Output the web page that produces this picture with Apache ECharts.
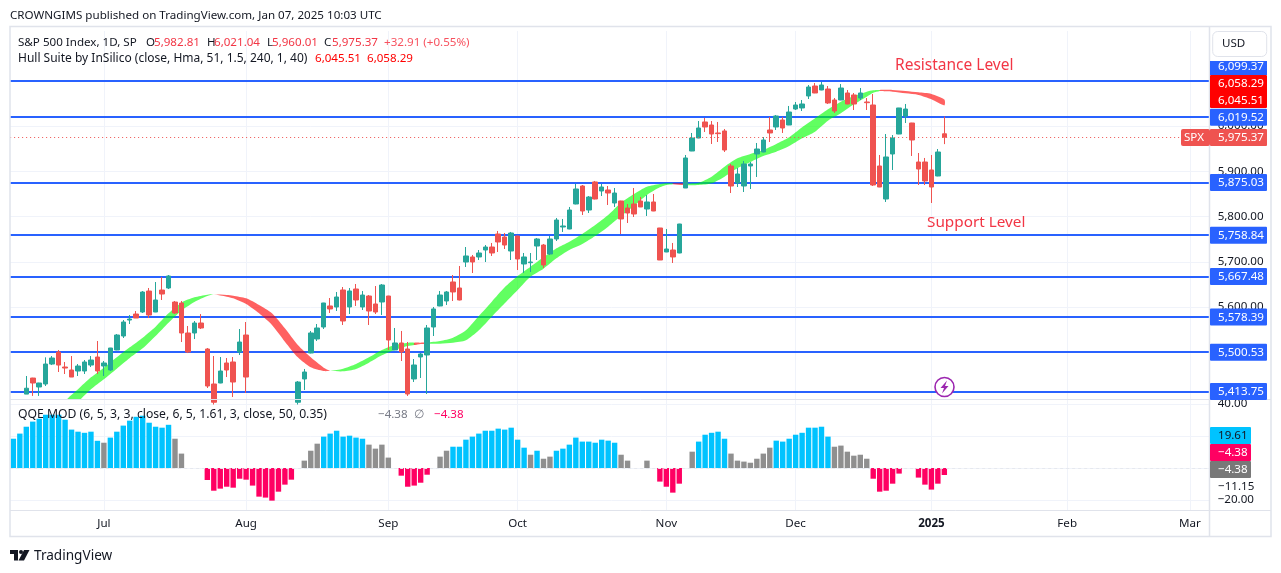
<!DOCTYPE html>
<html><head><meta charset="utf-8">
<style>html,body{margin:0;padding:0;background:#fff}#c{width:1281px;height:573px}</style>
<script src="https://cdn.jsdelivr.net/npm/echarts@6/dist/echarts.min.js"></script>
</head><body><div id="c"></div>
<script>
const monthIdx=[14,36,58,78,101,121,142,163,182];
const monthNames=['Jul','Aug','Sep','Oct','Nov','Dec','2025','Feb','Mar'];
const opens=[5385,5380,5408,5443.5,5423.7,5430.3,5474.4,5500.9,5467.8,5461.2,5459,5459,
5472.2,5489.9,5470,5461.2,5505.4,5536.3,5571.6,5584.8,5589.3,5635.6,
5589.3,5637.8,5642.3,5611.3,5609.1,5542.9,5542.9,5565,5507.6,5430.3,
5432.5,5476.7,5478.9,5500.9,5538.5,
5385,5290,5240,5270,5310,5330,5345,
5390,
5441.4,5498.8,5529.7,5556.2,5602.6,5600.4,5637.9,5600.4,5640.1,5600.4,5624.6,5607,5611.4,5624.6,
5505.4,5520.9,5507.6,5441.4,5490,5494.4,5556.2,5602.6,5613.6,5655.6,
5642.3,5699.7,5710.8,5710.8,5726.2,5732.8,5761.5,5754.9,5724,5757.1,
5695.3,5698.2,5735,5737.2,5717.4,5750.5,5777,5772.6,5827.8,5867.5,
5814.5,5876.4,5856.5,5858.7,5830,5834.4,5818.9,5827.8,5834.4,5816.7,
5832.2,5774.8,5721.8,5726.2,5719.6,5863.1,5944.8,5973.5,6008.9,6002.2,
5984.6,5989,5911.7,5874.2,5867.5,5911.7,5938.2,5942.6,5991.2,5997.8,
6013.3,6002.2,6037.5,6039.8,6066.3,6088.3,6079.5,6081.7,6057.4,6057.4,
6072.9,6068.5,6061.8,6053,6046.4,5911.7,5838.8,5938.2,5982.3,6022.1,
6006.6,5920.5,5920.5,5902.9,5889.6,5982.81];
const closes=[5382,5390,5421,5432.5,5432.5,5474.4,5487.7,5472.2,5465.6,5445.7,5470,5478.9,
5483.3,5459,5476.7,5509.8,5538.5,5567.2,5573.8,5576,5633.4,5582.6,
5615.8,5629,5668.8,5587.1,5542.9,5500.9,5565,5554,5425.9,5390,
5459,5461.2,5434.7,5523,5445.7,
5345,5220,5250,5210,5325,5345,5343,
5434.7,
5456.8,5543,5554,5609.2,5596,5622.4,5569.4,5635.7,5615.8,5626.8,5591.5,5589.3,5648.9,5527.5,
5520.9,5501,5408.3,5472.3,5496.6,5554,5596,5626.8,5633.5,5633.5,
5615.8,5713,5699.7,5719.6,5732.8,5719.6,5743.9,5737.2,5763.7,5706.3,
5710.8,5699.7,5750.5,5693.1,5750.5,5792.4,5779.2,5814.5,5860.9,5812.3,
5843.2,5838.8,5865.3,5852,5852,5794.7,5807.9,5805.7,5821.2,5832.2,
5812.3,5704.1,5728.4,5710.8,5783.6,5929.4,5973.5,5995.6,5997.8,5982.3,
5983.1,5947,5867.5,5894,5916.1,5916.1,5949.2,5969.1,5984.6,6022.1,
5995.6,6030.9,6046.4,6048.6,6086.1,6072.9,6090.5,6050.8,6033.1,6083.9,
6048.6,6048.6,6072.9,6051.5,5869.7,5865.3,5931.6,5973.5,6039.8,6037.5,
5969.1,5905,5878.6,5865.3,5942.6,5975.37];
const lows=[5370,5375,5408,5404,5404,5425.9,5472.2,5456.8,5452.4,5445.7,5448,5452.4,
5467.8,5452.4,5448,5459,5505,5531.9,5562.8,5576,5587.1,5576,
5589,5615.8,5640,5584.8,5523,5498.7,5529.6,5551.7,5421.5,5385,
5432,5445.7,5401.6,5494.3,5410.4,
5330,5150,5200,5190,5290,5310,5320,
5385,
5417.1,5498,5525.3,5551.8,5587.1,5591.5,5560.6,5584.9,5602.6,5593.7,5560.6,5584.9,5582.7,5505.4,
5505,5481.1,5403.9,5434.8,5443.6,5408.3,5536.3,5602,5604.8,5613.6,
5615,5688.7,5675.4,5704.1,5699.7,5713,5721.8,5728.4,5704.1,5682,
5675.4,5677.6,5704.1,5686.5,5715.2,5746.1,5766,5772,5827,5803.5,
5807.9,5838,5845.4,5825.6,5821.2,5761.5,5785.8,5799.1,5821,5801.3,
5812,5704,5721.5,5697.5,5719,5863,5944.5,5973,5986.8,5960.3,
5964.7,5942.6,5852,5865.3,5854.3,5860.9,5887.4,5942,5964.7,5991.2,
5984.6,6002,6035.3,6033.1,6059.6,6072.5,6079,6048.6,6028.7,6057,
6048,6035.3,6057.4,6035.3,5867.5,5865,5832.2,5902.9,5982,6006.6,
5933.8,5869.7,5869.7,5830,5889,5960.01];
const highs=[5390,5392,5448,5444,5433,5489.2,5492.1,5505.4,5478.9,5492.1,5474.4,5483.3,
5492.1,5525.2,5481.1,5510,5540.7,5571.6,5582.6,5591.5,5635.6,5642.3,
5655.5,5666.5,5671,5613.6,5613.6,5558.4,5569.4,5584.8,5509.8,5492.1,
5489.9,5487.7,5489.9,5551.7,5567.2,
5392,5300,5270,5290,5330,5360,5380,
5436.9,
5463.5,5547.4,5562.8,5609.5,5620.2,5633.5,5644.5,5642.3,5651.1,5635.7,5626.8,5646.7,5651.1,5625,
5554,5547.4,5523.1,5485.5,5498.8,5560.6,5600.4,5635.7,5635.7,5671,
5690.9,5732.8,5715.2,5726.2,5737.2,5741.7,5768.2,5763.7,5766,5757.5,
5719.6,5719.6,5752.7,5739.5,5757.1,5796.9,5794.7,5821.2,5872,5869.7,
5845.4,5878.6,5872,5867.5,5863.1,5835,5827.8,5863.1,5843.2,5847.6,
5849.9,5775,5772.6,5741.7,5784,5936,5984.6,6011,6017.7,6011,
6008.9,5993.4,5916.1,5907.3,5922.7,5920.5,5962.5,5975.7,6019.9,6024.3,
6019.9,6044.2,6053,6057.4,6090.5,6094.9,6097.2,6088.3,6061.8,6092.7,
6079.5,6072.9,6083.9,6061.8,6070.7,5936,5982.3,5980.1,6040,6048.6,
6007,5940.4,5929.4,5936,5949.2,6021.04];

const hullIdx=[8,10,12,14,16,18,20,22,24,26,28,30,31,33,34,36,38,40,42,44,46,48,49,51,53,55,57,59,61,62,63,64,66,68,70,72,74,76,78,80,82,84,86,88,90,92,94,96,98,100,101,102,104,106,108,110,112,114,116,118,120,122,124,126,128,130,132,133,134,136,138,140,142,144];
const hullUp=[5391.3,5418.5,5445,5466.4,5489.2,5511.2,5532.6,5556.9,5586.3,5609.9,5621.6,5627.5,5628.3,5626.8,5625.3,5619.4,5604.7,5586.3,5553.2,5516.4,5489.2,5466.4,5459,5464.2,5474.5,5489.2,5505.4,5516.4,5521.6,5521.6,5521.6,5521.6,5525.3,5532.6,5549,5580.5,5612.1,5643.8,5668.8,5689.4,5710,5729.9,5744.6,5761.5,5781.4,5803.5,5830.7,5849.9,5866,5872,5873.4,5873.4,5872.7,5874.9,5888.2,5910.2,5928.6,5938.2,5947,5960.3,5975,5997.1,6016.9,6036.8,6053.7,6066.2,6075.8,6078.8,6079.5,6079.5,6077.3,6074.4,6070.7,6058.29];
const hullLo=[5369.2,5391.3,5418.5,5440.6,5464.1,5487.7,5509,5536.3,5565.7,5592.2,5611.3,5624.6,5628.3,5623.1,5619.4,5606.9,5586.3,5560.6,5523.8,5489.2,5467.1,5459,5459,5458.3,5463.5,5477.4,5493.6,5505.4,5514.2,5516.4,5518.7,5519.4,5519.4,5521.6,5527,5549,5579,5608.4,5637.9,5667.3,5685,5707.8,5726.2,5739.5,5757.1,5777.7,5801.3,5823.4,5847.7,5864.6,5869.7,5871.2,5869.7,5869.7,5873.4,5888.2,5906.5,5920.5,5933.8,5943.3,5955.8,5972.8,5987.5,6011.8,6028,6047.8,6064.8,6073.6,6077.3,6075.8,6072.1,6068.5,6058.9,6045.51];
const hullRedStarts=[31,62,102,134];
const hullGreenStarts=[8,49,64,104];

const qqeValues=[18.3,21.5,25.8,29,30.8,33.3,33.3,33.3,30.2,24,
22.7,22,22.7,17,15.8,19,22.7,26.5,29.6,32,
32.7,28.3,25.8,25.2,27,18.3,9,null,null,null,
-7.5,-14.2,-12.9,-11.7,-12.3,-6.7,-7.3,-11,-17.9,-18.5,
-20.4,-14.8,-10.4,-7.3,null,4.6,10.8,15.2,19.6,21.5,
23.3,19.6,20.2,19,18.3,14.6,12.1,14.6,6.5,null,
-4.8,-11.7,-11,-9.2,-4.2,null,7.1,10.8,13.3,13.3,
17.7,19.6,21.5,23.3,23.3,24.6,24,25.2,17.7,12.7,
8.3,10.8,5.8,7.1,10.8,12.1,14.6,19,16.5,16.5,
15.8,17.7,17.1,15.8,8.3,4.6,null,null,4.6,null,
-8.5,-11.7,-15.4,-9.8,null,10.2,16.5,20.8,22,22.7,
18.3,9,4.6,4,3.3,5.8,9,12.7,17.1,16.5,
18.3,20.8,22,25.2,25.2,25.8,19.6,13.3,14,10.2,
7.7,8.3,5.8,-6.7,-14.8,-14.2,-9.8,-3.5,null,null,
-6,-10.4,-13.5,-9.8,-4.38];
const qqeKinds='bbbbbbbbbb'+'bbbbgbbbbb'+'bbbbbgg___'+'rrrrrrrrrr'+'rrrr_gggbb'+'bbbbbgggg_'+'rrrrr_ggbb'+'bbbbbbbbbb'+'gbggbbbbbb'+'bbbbgg__g_'+'rrrr_gbbbb'+'bgggggggbb'+'bbbbbbbggg'+'gggrrrrr__'+'rrrrr';

const levelValues=[6099.37,6019.52,5875.03,5758.84,5667.48,5578.39,5500.53,5413.75];
const lastPrice=5975.37;
const priceTicks=[5500,5600,5700,5800,5900,6000,6100];
const qqeTicks=[-20,0,20,40];

const COLS=186;
const categories=Array.from({length:COLS},(_,i)=>{const k=monthIdx.indexOf(i);return k>=0?monthNames[k]:String(i);});
const isMonth=i=>monthIdx.indexOf(i)>=0;
const fmt=v=>v.toFixed(2).replace(/\B(?=(\d{3})(?!\d))/,',').replace('-','\u2212');
const FONT='"Noto Sans", sans-serif', FS=11.6;
const INK='#131722', GRID='#f0f3fa', FRAME='#e0e3eb';
const UP='#26a69a', DOWN='#ef5350', LEVEL='#2962ff', HOTRED='#f23645';
const QQE={b:'#00c3ff',g:'#8f8f8f',r:'#ff0062'};

function hullRun(k){
  const i=hullIdx[k];
  if(hullRedStarts.indexOf(i)>=0) return '#ff0000';
  if(hullGreenStarts.indexOf(i)>=0) return '#00ff00';
  return null;
}
function renderHull(params,api){
  const k=params.dataIndex, color=hullRun(k);
  if(!color) return null;
  let e=k+1;
  while(e<hullIdx.length-1 && !hullRun(e)) e++;
  const up=[],lo=[];
  for(let j=k;j<=e;j++){up.push(api.coord([hullIdx[j],hullUp[j]]));lo.unshift(api.coord([hullIdx[j],hullLo[j]]));}
  return {type:'polygon',shape:{points:up.concat(lo),smooth:0.25},style:{fill:color,opacity:0.62}};
}

const xBase={type:'category',data:categories,boundaryGap:true,
  axisLine:{show:false},axisTick:{show:false},
  splitLine:{show:true,alignWithLabel:true,interval:i=>isMonth(i),lineStyle:{color:GRID,width:1}}};

const gridAxis=(gridIndex,min,max,ticks)=>({type:'value',gridIndex,position:'right',min,max,z:0,
  axisLine:{show:false},axisTick:{show:false,customValues:ticks},
  axisLabel:{show:false,customValues:ticks},
  splitLine:{show:true,lineStyle:{color:GRID,width:1}}});
const labelAxis=(gridIndex,min,max,ticks)=>({type:'value',gridIndex,position:'right',min,max,z:10,
  axisLine:{show:false},axisTick:{show:false,customValues:ticks},
  axisLabel:{show:true,customValues:ticks,margin:5,color:INK,fontFamily:FONT,fontSize:FS,formatter:fmt},
  splitLine:{show:false}});

const chart=echarts.init(document.getElementById('c'),null,{renderer:'canvas'});
chart.setOption({
  animation:false,backgroundColor:'#fff',
  grid:[{left:10.14,width:1202.49,top:31,height:368},{left:10.14,width:1202.49,top:400,height:110}],
  xAxis:[
    Object.assign({},xBase,{gridIndex:0,axisLabel:{show:false,interval:i=>isMonth(i)}}),
    Object.assign({},xBase,{gridIndex:1,axisLabel:{show:true,interval:i=>isMonth(i),color:INK,fontFamily:FONT,fontSize:FS,margin:8,
      hideOverlap:false,
      formatter:v=>v==='2025'?'{b|2025}':v,rich:{b:{fontWeight:'bold',color:INK,fontFamily:FONT,fontSize:FS}}}})
  ],
  yAxis:[
    labelAxis(0,5397.2,6209.77,priceTicks),
    labelAxis(1,-26.25,42.5,qqeTicks),
    gridAxis(0,5397.2,6209.77,priceTicks),
    gridAxis(1,-26.25,42.5,qqeTicks)
  ],
  series:[
    {type:'line',xAxisIndex:0,yAxisIndex:0,data:[],z:1,silent:true,
     markLine:{z:1,silent:true,symbol:'none',animation:false,label:{show:false},
       lineStyle:{color:LEVEL,width:2,type:'solid'},
       data:levelValues.map(v=>({yAxis:v}))}},
    {type:'custom',xAxisIndex:0,yAxisIndex:0,z:3,silent:true,clip:true,coordinateSystem:'cartesian2d',
     renderItem:renderHull,encode:{x:0,y:1},
     data:hullIdx.map((x,k)=>[x,hullUp[k],hullLo[k]])},
    {type:'candlestick',xAxisIndex:0,yAxisIndex:0,z:4,silent:true,clip:true,barWidth:5,
     itemStyle:{color:UP,color0:DOWN,borderColor:UP,borderColor0:DOWN,borderWidth:1},
     data:opens.map((o,i)=>[o,closes[i],lows[i],highs[i]]),
     markLine:{z:5,silent:true,symbol:'none',animation:false,label:{show:false},
       lineStyle:{color:DOWN,width:1,type:[1,3]},data:[{yAxis:lastPrice}]}},
    {type:'bar',xAxisIndex:1,yAxisIndex:1,z:3,silent:true,barWidth:5.4,
     data:qqeValues.map((v,i)=>({value:v,itemStyle:{color:QQE[qqeKinds[i]]||'#fff'}})),
     markLine:{z:5,silent:true,symbol:'none',animation:false,label:{show:false},
       lineStyle:{color:'#e6e8ee',width:1,type:[3,3]},data:[{yAxis:0}]}}
  ]
});

const pY=v=>chart.convertToPixel({yAxisIndex:0},v);
const qY=v=>chart.convertToPixel({yAxisIndex:1},v);
const txt=(text,x,y,fill,opts={})=>({type:'text',z:12,silent:true,style:{text,x,y:y+(opts.dy===undefined?1:opts.dy),fill,font:(opts.size||FS)+'px '+FONT,textVerticalAlign:'middle',textAlign:opts.align||'left'}});
const tag=(text,yc,bg,fg,w,h)=>[
  {type:'rect',z:11,silent:true,shape:{x:1210,y:yc-(h||17)/2,width:w||57,height:h||17,r:1},style:{fill:bg}},
  txt(text,1218,yc,fg,{dy:0.5})
];
const levelTagOffsets=[null,0,0,0,0,0,0,0];

const g=[
  {type:'rect',z:8,silent:true,shape:{x:1209.5,y:27,width:62,height:510},style:{fill:'#fff'}},
  {type:'rect',z:9,silent:true,shape:{x:10,y:26.5,width:1261,height:510},style:{fill:'none',stroke:FRAME,lineWidth:1.5}},
  {type:'line',z:9,silent:true,shape:{x1:1209.5,y1:27,x2:1209.5,y2:537},style:{stroke:FRAME,lineWidth:1.5}},
  {type:'line',z:9,silent:true,shape:{x1:10,y1:399.5,x2:1271,y2:399.5},style:{stroke:FRAME,lineWidth:1}},
  {type:'line',z:9,silent:true,shape:{x1:10,y1:510.5,x2:1271,y2:510.5},style:{stroke:FRAME,lineWidth:1}},
  txt('CROWNGIMS published on TradingView.com, Jan 07, 2025 10:03 UTC',10,15,INK),
  txt('S&P 500 Index, 1D, SP',18,42,INK),
  txt('O',146,42,INK),txt('5,982.81',154,42,HOTRED),
  txt('H',207,42,INK),txt('6,021.04',214,42,HOTRED),
  txt('L',267,42,INK),txt('5,960.01',272,42,HOTRED),
  txt('C',324,42,INK),txt('5,975.37',332,42,HOTRED),
  txt('+32.91 (+0.55%)',384,42,'#f7525f'),
  txt('Hull Suite by InSilico (close, Hma, 51, 1.5, 240, 1, 40)',18,58,INK,{size:12}),
  txt('6,045.51',315,58,'#ff0000'),txt('6,058.29',367,58,'#ff0000'),
  txt('QQE MOD (6, 5, 3, 3, close, 6, 5, 1.61, 3, close, 50, 0.35)',18,414,INK,{size:12.2}),
  txt('\u22124.38',378,414,'#787b86'),txt('\u2205',414,414,'#787b86'),txt('\u22124.38',434,414,'#ff0062'),
  txt('Resistance Level',895,65,HOTRED,{size:15.5}),
  txt('Support Level',927,221.5,HOTRED,{size:15.3}),
  {type:'circle',z:12,silent:true,shape:{cx:944.5,cy:387,r:9.5},style:{fill:'#fff',stroke:'#9c27b0',lineWidth:1.6}},
  {type:'polygon',z:13,silent:true,shape:{points:[[947,380.5],[940.5,388],[944,388],[942,393.5],[948.5,386],[945,386]]},style:{fill:'#9c27b0'}},
  {type:'rect',z:12,silent:true,shape:{x:1212.7,y:31.5,width:54,height:25,r:5},style:{fill:'#fff',stroke:FRAME,lineWidth:1}},
  txt('USD',1222,43,INK),
  {type:'rect',z:11,silent:true,shape:{x:1210,y:61,width:57,height:14},style:{fill:LEVEL}},
  txt('6,099.37',1218,66,'#fff',{dy:0.5})
];
levelValues.forEach((v,k)=>{ if(levelTagOffsets[k]!==null) g.push(...tag(fmt(v),pY(v)+levelTagOffsets[k],LEVEL,'#fff')); });
g.push({type:'rect',z:11,silent:true,shape:{x:1210,y:75,width:57,height:33,r:1},style:{fill:'#ff0000'}},
  txt('6,058.29',1218,83.5,'#fff',{dy:0.5}),txt('6,045.51',1218,100,'#fff',{dy:0.5}));
g.push(...tag('5,975.37',137.5,DOWN,'#fff'));
g.push({type:'rect',z:11,silent:true,shape:{x:1181,y:129,width:29,height:17,r:2},style:{fill:DOWN}},txt('SPX',1184,137.5,'#fff',{dy:0.5}));
g.push(...tag('19.61',qY(19.61)-1,'#00c3ff',INK,41));
g.push(...tag('\u22124.38',452.5,'#ff0062','#fff',41));
g.push(...tag('\u22124.38',469.5,'#787878','#fff',41));
g.push(txt('\u221211.15',1218,486,INK));
g.push(
  {type:'polygon',z:12,silent:true,shape:{points:[[10,550],[18,550],[18,560.5],[14,560.5],[14,554],[10,554]]},style:{fill:INK}},
  {type:'circle',z:12,silent:true,shape:{cx:21,cy:552,r:2},style:{fill:INK}},
  {type:'polygon',z:12,silent:true,shape:{points:[[24,550],[29.5,550],[24,560.5],[18.5,560.5]]},style:{fill:INK}},
  txt('TradingView',34,555,INK,{size:13.6})
);
chart.setOption({graphic:{elements:g}});
</script></body></html>
